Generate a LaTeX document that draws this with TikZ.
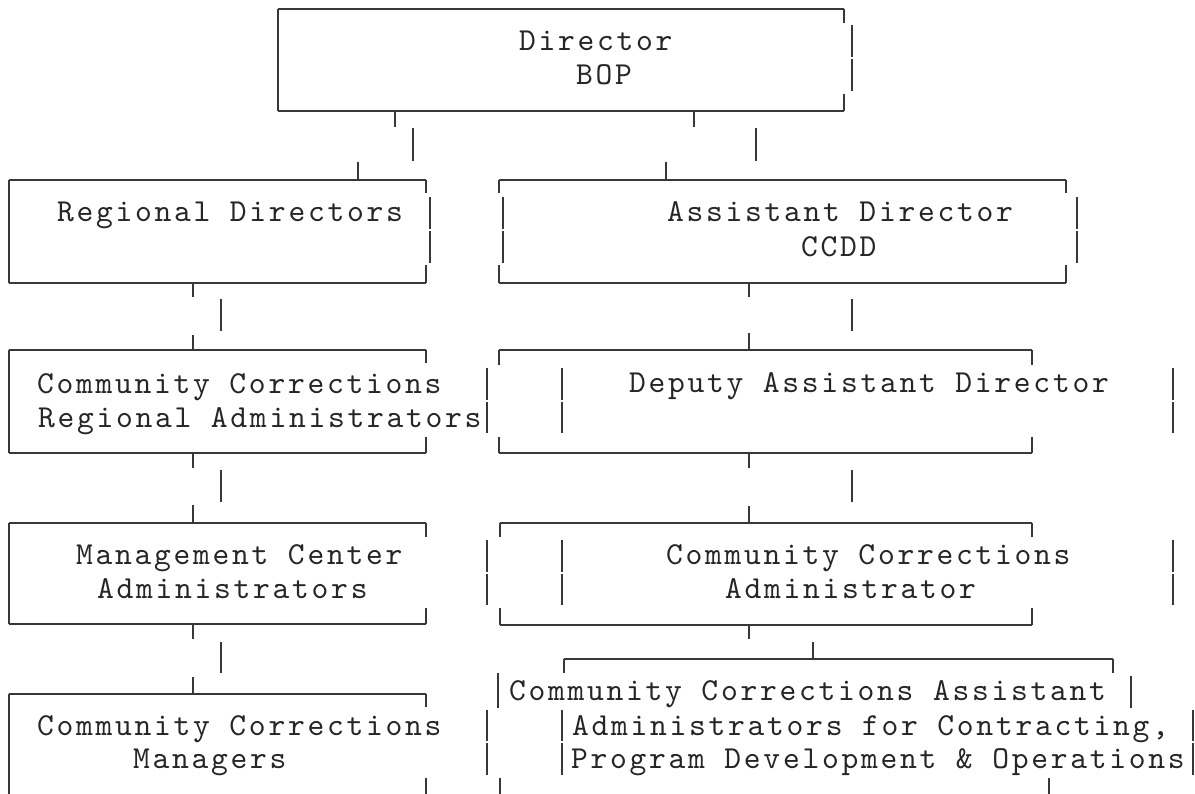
\documentclass[tikz,border=0pt]{standalone}
\usepackage{fontspec}
\newfontfamily\courfont{lmmono10-regular.otf}[LetterSpace=8.5]
\tikzset{
  bd/.style={draw=black!78, line width=1.8pt, line cap=butt},
  lbl/.style={inner sep=0pt, outer sep=0pt, anchor=base west, text=black!85,
    font=\courfont\fontsize{32}{34}\selectfont},
}
\newcommand\myv[3]{\draw[bd] (#1,#2) -- (#1,#3);}
\newcommand\myh[3]{\draw[bd] (#2,#1) -- (#3,#1);}
\begin{document}
\begin{tikzpicture}[x=1pt,y=-1pt]
\useasboundingbox[fill=white] (0,0) rectangle (1195,794);

% ---------- Director box ----------
\myh{9}{278}{844}
\myh{111}{278}{844}
\myv{278}{9}{111}
\myv{844}{9}{23}
\myv{844}{94}{111}
\myv{852}{25}{57}
\myv{852}{59}{91}
\node[lbl] (dir1) at (519,51) {Director};
\node[lbl] (dir2) at (576,85) {BOP};
% connectors from Director
\myv{395}{111}{127}
\myv{694}{111}{127}
\myv{413}{128}{161}
\myv{756}{128}{161}
\myv{358}{162}{180}
\myv{666}{162}{180}

% ---------- Regional Directors ----------
\myh{180}{9}{426}
\myh{283}{9}{426}
\myv{9}{180}{283}
\myv{426}{180}{193}
\myv{426}{265}{283}
\myv{430}{197}{229}
\myv{430}{231}{263}
\node[lbl] (rd) at (57,222) {Regional Directors};
\myv{193}{283}{297}
\myv{221}{299}{331}
\myv{193}{335}{350}

% ---------- Assistant Director ----------
\myh{180}{499}{1066}
\myh{283}{499}{1066}
\myv{499}{180}{193}
\myv{499}{265}{283}
\myv{503}{197}{229}
\myv{503}{231}{263}
\myv{1066}{180}{193}
\myv{1066}{265}{283}
\myv{1077}{197}{229}
\myv{1077}{231}{263}
\node[lbl] (ad1) at (667,222) {Assistant Director};
\node[lbl] (ad2) at (801,257) {CCDD};
\myv{749}{283}{297}
\myv{852}{299}{331}
\myv{749}{333}{350}

% ---------- CC Regional Administrators ----------
\myh{350}{9}{426}
\myh{453}{9}{426}
\myv{9}{350}{453}
\myv{426}{350}{363}
\myv{426}{437}{453}
\myv{487}{368}{400}
\myv{487}{402}{433}
\node[lbl] (cra1) at (37,394) {Community Corrections};
\node[lbl] (cra2) at (38,428) {Regional Administrators};
\myv{193}{453}{468}
\myv{221}{470}{502}
\myv{193}{505}{523}

% ---------- Deputy Assistant Director ----------
\myh{350}{499}{1032}
\myh{453}{499}{1032}
\myv{499}{350}{365}
\myv{499}{437}{453}
\myv{562}{368}{400}
\myv{562}{402}{433}
\myv{1032}{350}{365}
\myv{1032}{437}{453}
\myv{1173}{368}{400}
\myv{1173}{402}{433}
\node[lbl] (dad) at (629,393) {Deputy Assistant Director};
\myv{749}{453}{468}
\myv{852}{470}{502}
\myv{749}{506}{523}

% ---------- Management Center Administrators ----------
\myh{523}{9}{426}
\myh{624}{9}{426}
\myv{9}{523}{624}
\myv{426}{523}{537}
\myv{426}{608}{624}
\myv{487}{540}{572}
\myv{487}{574}{605}
\node[lbl] (mca1) at (76,564) {Management Center};
\node[lbl] (mca2) at (97,598) {Administrators};
\myv{193}{624}{639}
\myv{221}{642}{673}
\myv{193}{677}{694}

% ---------- Community Corrections Administrator ----------
\myh{523}{500}{1032}
\myh{625}{500}{1032}
\myv{500}{523}{537}
\myv{500}{608}{625}
\myv{562}{540}{572}
\myv{562}{574}{605}
\myv{1032}{523}{537}
\myv{1032}{608}{625}
\myv{1173}{540}{572}
\myv{1173}{574}{605}
\node[lbl] (cca1) at (666,564) {Community Corrections};
\node[lbl] (cca2) at (725,598) {Administrator};
\myv{749}{625}{639}
\myv{813}{642}{659}

% ---------- CC Assistant Administrators ----------
\myh{659}{564}{1113}
\myv{564}{659}{673}
\myv{1113}{659}{673}
\myv{498}{673}{708}
\myv{1131}{676}{708}
\myv{562}{710}{741}
\myv{562}{743}{775}
\myv{1193}{710}{741}
\myv{1193}{743}{775}
\myv{500}{778}{794}
\myv{1049}{778}{794}
\node[lbl] (caa1) at (509,700) {Community Corrections Assistant};
\node[lbl] (caa2) at (572,735) {Administrators for Contracting,};
\node[lbl] (caa3) at (571,768) {Program Development \& Operations};

% ---------- Community Corrections Managers ----------
\myh{694}{9}{426}
\myv{9}{694}{794}
\myv{426}{694}{707}
\myv{487}{710}{741}
\myv{487}{743}{775}
\myv{426}{778}{794}
\node[lbl] (ccm1) at (37,735) {Community Corrections};
\node[lbl] (ccm2) at (133,768) {Managers};
\end{tikzpicture}
\end{document}
